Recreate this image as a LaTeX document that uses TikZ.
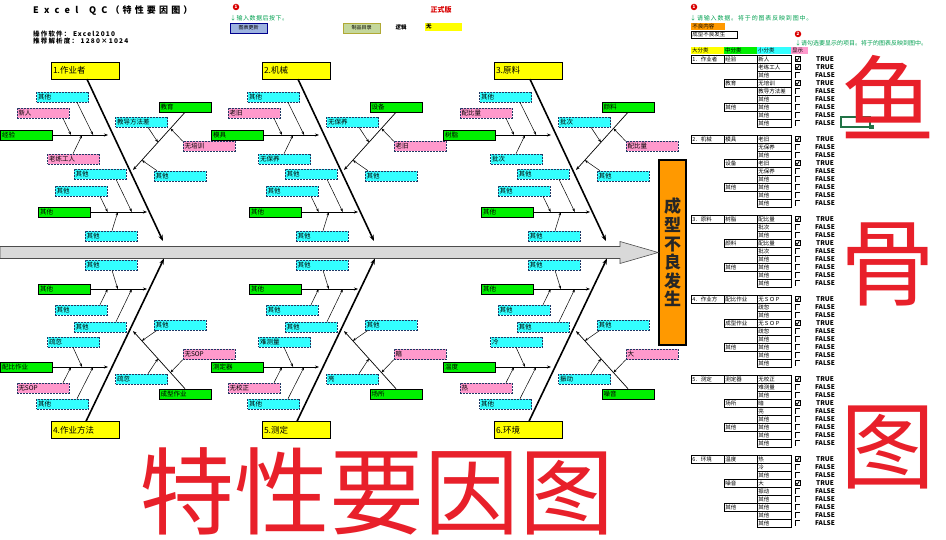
\documentclass[tikz,border=0pt]{standalone}
\usepackage{fontspec}
\setmainfont{Noto Sans CJK SC}
\usetikzlibrary{arrows.meta,calc}
\definecolor{Yel}{HTML}{FFFF00}
\definecolor{Grn}{HTML}{00F000}
\definecolor{Cyn}{HTML}{33FFFF}
\definecolor{Pnk}{HTML}{FF99CC}
\definecolor{Org}{HTML}{FF9900}
\definecolor{Navy}{HTML}{1F3864}
\definecolor{Spn}{HTML}{D9D9D9}
\definecolor{BigRed}{HTML}{E8202A}
\definecolor{TxtGrn}{HTML}{00A050}
\definecolor{BtnBlue}{HTML}{9DB3E0}
\definecolor{BtnGrn}{HTML}{C4D79B}
\definecolor{CellGrn}{HTML}{217346}
\tikzset{
  catbox/.style={draw=black, fill=Yel, text width=64pt, inner xsep=2pt, inner ysep=0pt,
    minimum height=17pt, align=left, font=\fontsize{8.5}{9}\selectfont},
  subbox/.style={text width=49pt, inner xsep=1.5pt, inner ysep=0pt, minimum height=10pt,
    align=left, font=\fontsize{6.5}{7}\selectfont},
  grn/.style={subbox, draw=black, line width=0.6pt, fill=Grn},
  cyb/.style={subbox, draw=Navy, line width=0.6pt, dash pattern=on 2pt off 1pt, fill=Cyn},
  pnk/.style={subbox, draw=Navy, line width=0.6pt, dash pattern=on 2pt off 1pt, fill=Pnk},
  bone/.style={line width=1.6pt, -{Stealth[length=6pt,width=4.5pt]}},
  hline/.style={line width=0.7pt, -{Stealth[length=4pt,width=3pt]}},
  twig/.style={line width=0.5pt, -{Stealth[length=3.5pt,width=2.5pt]}},
  tcell/.style={draw=black, line width=0.5pt, anchor=north west, minimum height=8pt,
    inner xsep=1pt, inner ysep=0pt, align=left, font=\fontsize{5.5}{5.5}\selectfont},
  thdr/.style={anchor=north west, minimum height=7pt, text width=31pt, inner xsep=1pt,
    inner ysep=0pt, align=left, font=\fontsize{5.5}{5.5}\selectfont},
  cbox/.style={minimum size=5pt, inner sep=0pt},
  tf/.style={font=\bfseries\fontsize{6.5}{6.5}\selectfont, inner sep=0pt},
  numdot/.style={circle, fill=red!85!black, text=white, inner sep=0pt, minimum size=6.5pt,
    font=\bfseries\fontsize{4.5}{4.5}\selectfont},
  gnote/.style={anchor=west, inner sep=0pt, text=TxtGrn,
    font=\fontsize{6}{6}\selectfont\addfontfeature{LetterSpace=8}},
  btn/.style={minimum width=37pt, minimum height=10pt, inner sep=0pt, line width=0.8pt,
    font=\fontsize{5}{5}\selectfont},
  bigred/.style={text=BigRed, inner sep=0pt, font=\fontsize{95}{95}\selectfont},
}
\begin{document}
\begin{tikzpicture}[x=1pt,y=-1pt]
  \useasboundingbox (0,0) rectangle (946,540);
  \fill[white] (0,0) rectangle (946,540);

  % header
  \node[anchor=west, inner sep=0pt, font=\bfseries\fontsize{9}{9}\selectfont\addfontfeature{LetterSpace=35}] (head)
    at (33,10.5) {E x c e l\hspace{1.2em}Q C（特性要因图）};
  \node[anchor=north west, inner sep=0pt, align=left,
    font=\bfseries\fontsize{6.5}{7.5}\selectfont\addfontfeature{LetterSpace=18}] (soft)
    at (33,30.5) {操作软件： Excel2010\\推荐解析度： 1280×1024};
  \node[numdot] (dot0) at (236,7) {1};
  \node[gnote] (note0) at (230,18) {↓输入数据后按下。};
  \node[btn, fill=BtnBlue, draw=blue!55!black] (upd) at (248.5,28) {图表更新};
  \node[btn, fill=BtnGrn, draw=olive!70] (cat) at (361.5,28) {制品目录};
  \node[inner sep=0pt, font=\bfseries\fontsize{5.5}{5.5}\selectfont] (logic) at (401,27) {逻辑};
  \node[fill=Yel, text width=35pt, inner xsep=1pt, minimum height=8pt, inner ysep=0pt,
    align=left, font=\bfseries\fontsize{5.5}{5.5}\selectfont] (none) at (443.5,27) {无};
  \node[inner sep=0pt, text=red!85!black, font=\bfseries\fontsize{7}{7}\selectfont] (ver) at (441,10) {正式版};

  % spine and effect
  \node[draw=black, line width=1.6pt, fill=Org, minimum width=27pt, minimum height=185pt,
    inner sep=0pt, align=center, text=black!85,
    font=\bfseries\fontsize{17}{18.6}\selectfont] (eff) at (672.5,252.5) {成\\型\\不\\良\\发\\生};
  \filldraw[fill=Spn, draw=gray!60!black, line width=0.6pt] (0,246.5) -- (620,246.5) -- (620,241.5)
    -- (eff.west) -- (620,263.5) -- (620,258.5) -- (0,258.5) -- cycle;

  % upper causes
  \foreach \dx/\k/\ttl/\ga/\ia/\ib/\sb/\gr/\ra/\rb in {
      0/1/1.作业者/经验/新人/老练工人/pnk/教育/无培训/教导方法差,
      211/2/2.机械/模具/老旧/无保养/cyb/设备/老旧/无保养,
      443/3/3.原料/树脂/配比量/批次/cyb/颜料/配比量/批次}{
    \coordinate (h\k) at (163+\dx,241);
    \coordinate (e\k) at (108+\dx,135);
    \coordinate (f\k) at (147+\dx,212);
    \coordinate (d\k) at (133+\dx,170);
    \node[catbox] (t\k) at (85+\dx,70.5) {\ttl};
    \node[grn] (ga\k) at (26.5+\dx,135) {\ga};
    \node[grn] (gb\k) at (64.5+\dx,212) {其他};
    \node[grn] (gr\k) at (185+\dx,107) {\gr};
    \draw[bone] ([xshift=2pt]t\k.south) -- (h\k);
    \draw[hline] (ga\k) -- (e\k) coordinate[pos=.33] (a1\k) coordinate[pos=.53] (a2\k) coordinate[pos=.73] (a3\k);
    \draw[hline] (gb\k) -- (f\k) coordinate[pos=.73] (b1\k) coordinate[pos=.30] (b2\k) coordinate[pos=.48] (b3\k);
    \draw[hline] (gr\k.south) -- (d\k) coordinate[pos=.52] (c1\k) coordinate[pos=.28] (c2\k) coordinate[pos=.83] (c3\k);
    \node[pnk] (ia\k) at (43+\dx,113) {\ia};
    \node[\sb] (ib\k) at (73.5+\dx,159) {\ib};
    \node[cyb] (ic\k) at (62.5+\dx,97) {其他};
    \node[cyb] (j1\k) at (100+\dx,174) {其他};
    \node[cyb] (j2\k) at (81+\dx,191) {其他};
    \node[cyb] (j3\k) at (111+\dx,236) {其他};
    \node[cyb] (r1\k) at (141.5+\dx,122) {\rb};
    \node[pnk] (r2\k) at (209+\dx,146.5) {\ra};
    \node[cyb] (r3\k) at (180+\dx,176) {其他};
    \draw[twig] ([xshift=20pt]ia\k.south) -- (a1\k);
    \draw[twig] ([xshift=-0.5pt]ib\k.north) -- (a2\k);
    \draw[twig] ([xshift=14.5pt]ic\k.south) -- (a3\k);
    \draw[twig] ([xshift=16pt]j1\k.south) -- (b1\k);
    \draw[twig] ([xshift=19pt]j2\k.south) -- (b2\k);
    \draw[twig] ([xshift=1pt]j3\k.north) -- (b3\k);
    \draw[twig] ([xshift=6.5pt]r1\k.south) -- (c1\k);
    \draw[twig] (r2\k.north west) -- (c2\k);
    \draw[twig] ([xshift=-23pt]r3\k.north) -- (c3\k);
  }

  % lower causes
  \foreach \dx/\k/\ttl/\ga/\ia/\ib/\gr/\ra/\rb in {
      0/4/4.作业方法/配比作业/无SOP/疏忽/成型作业/无SOP/疏忽,
      211/5/5.测定/测定器/无校正/难测量/场所/暗/亮,
      443/6/6.环境/温度/热/冷/噪音/大/振动}{
    \coordinate (h\k) at (164+\dx,258.5);
    \coordinate (e\k) at (108+\dx,367);
    \coordinate (f\k) at (147+\dx,289);
    \coordinate (d\k) at (133+\dx,331);
    \node[catbox] (t\k) at (85+\dx,430) {\ttl};
    \node[grn] (ga\k) at (26.5+\dx,367) {\ga};
    \node[grn] (gb\k) at (64.5+\dx,289) {其他};
    \node[grn] (gr\k) at (185+\dx,394) {\gr};
    \draw[bone] ([xshift=1pt]t\k.north) -- (h\k);
    \draw[hline] (ga\k) -- (e\k) coordinate[pos=.33] (a1\k) coordinate[pos=.53] (a2\k) coordinate[pos=.73] (a3\k);
    \draw[hline] (gb\k) -- (f\k) coordinate[pos=.73] (b1\k) coordinate[pos=.30] (b2\k) coordinate[pos=.48] (b3\k);
    \draw[hline] (gr\k.north) -- (d\k) coordinate[pos=.52] (c1\k) coordinate[pos=.28] (c2\k) coordinate[pos=.83] (c3\k);
    \node[pnk] (ia\k) at (43+\dx,388) {\ia};
    \node[cyb] (ib\k) at (73.5+\dx,342) {\ib};
    \node[cyb] (ic\k) at (62.5+\dx,404) {其他};
    \node[cyb] (j1\k) at (100+\dx,327) {其他};
    \node[cyb] (j2\k) at (81+\dx,310) {其他};
    \node[cyb] (j3\k) at (111+\dx,265) {其他};
    \node[cyb] (r1\k) at (141.5+\dx,379) {\rb};
    \node[pnk] (r2\k) at (209+\dx,354.5) {\ra};
    \node[cyb] (r3\k) at (180+\dx,325) {其他};
    \draw[twig] ([xshift=20pt]ia\k.north) -- (a1\k);
    \draw[twig] ([xshift=-0.5pt]ib\k.south) -- (a2\k);
    \draw[twig] ([xshift=14.5pt]ic\k.north) -- (a3\k);
    \draw[twig] ([xshift=16pt]j1\k.north) -- (b1\k);
    \draw[twig] ([xshift=19pt]j2\k.north) -- (b2\k);
    \draw[twig] ([xshift=1pt]j3\k.south) -- (b3\k);
    \draw[twig] ([xshift=6.5pt]r1\k.north) -- (c1\k);
    \draw[twig] (r2\k.south west) -- (c2\k);
    \draw[twig] ([xshift=-23pt]r3\k.south) -- (c3\k);
  }

  % input table
  \node[numdot] (dot1) at (694,7) {1};
  \node[gnote, font=\fontsize{6}{6}\selectfont\addfontfeature{LetterSpace=14}] (note1) at (690,18)
    {↓请输入数据。将于的图表反映到图中。};
  \node[tcell, draw=none, fill=Org, text width=32pt, minimum height=7pt] (bad) at (691,23) {不良内容};
  \node[tcell, text width=44pt, minimum height=7pt] (badv) at (691,31) {成型不良发生};
  \node[numdot] (dot2) at (798,34) {2};
  \node[gnote, font=\fontsize{6}{6}\selectfont] (note2) at (795,43) {↓请勾选要显示的项目。将于的图表反映到图中。};
  \node[thdr, fill=Yel] (hd1) at (691,47) {大分类};
  \node[thdr, fill=Grn] (hd2) at (724,47) {中分类};
  \node[thdr, fill=Cyn, text width=32pt] (hd3) at (757,47) {小分类};
  \node[thdr, fill=Pnk, text width=15pt] (hd4) at (791,47) {显示};
  \foreach \k/\big/\ma/\ia/\ib/\mb/\ra/\rb/\tb in {
      1/1．作业者/经验/新人/老练工人/教育/无培训/教导方法差/1,
      2/2．机械/模具/老旧/无保养/设备/老旧/无保养/0,
      3/3．原料/树脂/配比量/批次/颜料/配比量/批次/0,
      4/4．作业方/配比作业/无ＳＯＰ/疏忽/成型作业/无ＳＯＰ/疏忽/0,
      5/5．测定/测定器/无校正/难测量/场所/暗/亮/0,
      6/6．环境/温度/热/冷/噪音/大/振动/0}{
    \pgfmathsetmacro\yy{55+80*(\k-1)}
    \node[tcell, text width=31pt] (big\k) at (691,\yy) {\big};
    \node[tcell, text width=31pt] (ma\k) at (724,\yy) {\ma};
    \node[tcell, text width=31pt] (mb\k) at (724,\yy+24) {\mb};
    \node[tcell, text width=31pt] (mc\k) at (724,\yy+48) {其他};
    \foreach \r/\s/\v in {0/\ia/1,1/\ib/\tb,2/其他/0,3/\ra/1,4/\rb/0,5/其他/0,6/其他/0,7/其他/0,8/其他/0}{
      \node[tcell, text width=32pt] (s\k-\r) at (757,\yy+8*\r) {\s};
      \node[cbox] (cb\k-\r) at (797.5,\yy+8*\r+4) {};
      \ifnum\v=1\relax
        \draw[line width=0.6pt] (cb\k-\r.south west) rectangle (cb\k-\r.north east);
        \draw[line width=0.8pt] ([xshift=-1.6pt]cb\k-\r.center) -- ([xshift=-0.4pt,yshift=-1.5pt]cb\k-\r.center)
          -- ([xshift=1.8pt,yshift=1.8pt]cb\k-\r.center);
        \node[tf] (tf\k-\r) at (825,\yy+8*\r+4) {TRUE};
      \else
        \draw[line width=0.6pt] (cb\k-\r.south west) |- (cb\k-\r.north east);
        \node[tf] (tf\k-\r) at (825,\yy+8*\r+4) {FALSE};
      \fi
    }
  }
  \draw[CellGrn, line width=1.3pt] (841,117) rectangle (870,127);
  \fill[CellGrn] (869,125) rectangle (873.5,129.5);

  % big titles
  \node[bigred] (fish1) at (888,97) {鱼};
  \node[bigred] (fish2) at (888,264) {骨};
  \node[bigred] (fish3) at (888,447) {图};
  \node[bigred] (title) at (377,491) {特性要因图};
\end{tikzpicture}
\end{document}
